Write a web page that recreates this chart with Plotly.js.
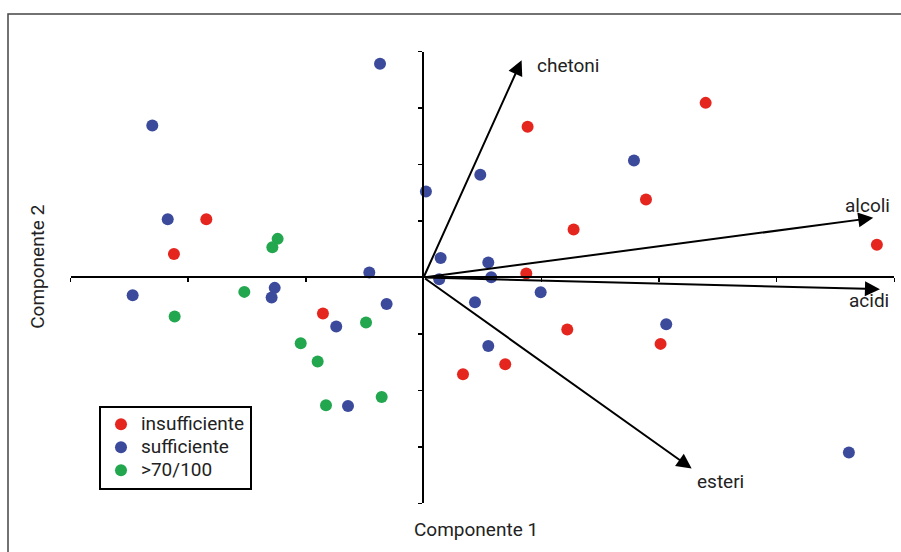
<!DOCTYPE html>
<html><head><meta charset="utf-8">
<script src="https://cdn.plot.ly/plotly-3.0.1.min.js"></script>
<style>html,body{margin:0;padding:0;background:#fff}#chart{width:901px;height:552px}</style>
</head><body><div id="chart"></div>
<script>
// --- data ---
const seriesNames = ['insufficiente', 'sufficiente', '>70/100'];

const insuffX = [-1.846, -2.121, 0.884, 2.397, 1.890, 1.275, 3.852, 0.873, -0.855, 1.221, 2.014, 0.694, 0.335];
const insuffY = [1.033, 0.418, 2.668, 3.093, 1.382, 0.850, 0.578, 0.071, -0.638, -0.921, -1.176, -1.536, -1.713];

const suffX = [-0.370, -2.305, 0.020, -2.174, 0.145, -0.461, 0.133, 0.482, 1.788, 0.550, 0.575,
               -2.472, -1.265, -1.291, -0.742, -0.314, -0.642, 0.995, 0.437, 2.062, 0.550, 3.614];
const suffY = [3.784, 2.693, 1.523, 1.033, 0.347, 0.089, -0.030, 1.818, 2.073, 0.266, 0.005,
               -0.314, -0.184, -0.354, -0.868, -0.468, -2.275, -0.260, -0.438, -0.827, -1.212, -3.100];

const highX = [-1.240, -1.285, -1.523, -2.115, -0.489, -1.044, -0.900, -0.829, -0.356];
const highY = [0.684, 0.537, -0.255, -0.691, -0.797, -1.164, -1.488, -2.262, -2.115];

const vecNames = ['chetoni', 'alcoli', 'acidi', 'esteri'];
const vecX = [0.833, 3.821, 3.878, 2.278];
const vecY = [3.849, 1.056, -0.207, -3.384];

const xTicks = [-3, -2, -1, 0, 1, 2, 3, 4];
const yTicks = [-4, -3, -2, -1, 0, 1, 2, 3, 4];

// --- styles ---
const colors = ['#e5261f', '#3c4a9c', '#22a74f'];
const labelShift = { // pixel offsets of labels from arrow tips
  chetoni: [13, -5], alcoli: [-30, 12], acidi: [-33, -11], esteri: [3, -13]
};
const txtFont = {family: 'Roboto, sans-serif', size: 19, color: '#222'};

const allX = [insuffX, suffX, highX];
const allY = [insuffY, suffY, highY];
const traces = seriesNames.map((n, i) => ({
  type: 'scatter', mode: 'markers',
  name: '<span style="font-size:19px">' + n.replace('>', '&gt;') + '</span>',
  x: allX[i], y: allY[i],
  marker: {color: colors[i], size: 12, line: {width: 0}},
  cliponaxis: false, hoverinfo: 'x+y'
}));

const annotations = [];
vecNames.forEach((n, i) => {
  annotations.push({
    x: vecX[i], y: vecY[i], ax: 0, ay: 0,
    xref: 'x', yref: 'y', axref: 'x', ayref: 'y',
    text: '', showarrow: true, arrowhead: 2, arrowsize: 1.5, arrowwidth: 2,
    arrowcolor: '#000', standoff: 0, startstandoff: 0
  });
  annotations.push({
    x: vecX[i], y: vecY[i], xref: 'x', yref: 'y',
    text: n, showarrow: false, xanchor: 'left', yanchor: 'middle',
    xshift: labelShift[n][0], yshift: labelShift[n][1], font: txtFont
  });
});
annotations.push({
  x: 0.5241, y: 0.0409, xref: 'paper', yref: 'paper', text: 'Componente 1',
  showarrow: false, xanchor: 'center', yanchor: 'middle', font: txtFont
});
annotations.push({
  x: 0.0330, y: 0.531, xref: 'paper', yref: 'paper', text: 'Componente 2',
  showarrow: false, xanchor: 'center', yanchor: 'middle', textangle: -90,
  font: txtFont
});

const axisCommon = {
  showgrid: false, zeroline: false, showline: true, linecolor: '#000', linewidth: 2,
  ticks: 'outside', ticklen: 4, tickwidth: 1.5, tickcolor: '#000',
  showticklabels: false, tickmode: 'array', fixedrange: true
};

const layout = {
  width: 901, height: 552,
  margin: {l: 8, r: 0, t: 14, b: 0},
  paper_bgcolor: '#fff', plot_bgcolor: 'rgba(0,0,0,0)',
  xaxis: Object.assign({}, axisCommon, {
    range: [-3, 4], domain: [0.0700, 0.9925], anchor: 'free', position: 0.5106,
    tickvals: xTicks
  }),
  yaxis: Object.assign({}, axisCommon, {
    range: [-4, 4], domain: [0.0905, 0.930], anchor: 'free', position: 0.4651,
    tickvals: yTicks
  }),
  showlegend: true,
  legend: {
    x: 0.1019, y: 0.272, xanchor: 'left', yanchor: 'top',
    bgcolor: '#fff', bordercolor: '#000', borderwidth: 2,
    font: {family: 'Roboto, sans-serif', size: 15.4, color: '#222'}, tracegroupgap: 0
  },
  shapes: [{
    type: 'rect', xref: 'paper', yref: 'paper', x0: 0, x1: 1.01, y0: -0.01, y1: 1,
    line: {color: '#444', width: 1.5}, fillcolor: 'rgba(0,0,0,0)', layer: 'below'
  }],
  annotations: annotations
};

Plotly.newPlot('chart', traces, layout, {displayModeBar: false, staticPlot: true});
</script>
</body></html>
